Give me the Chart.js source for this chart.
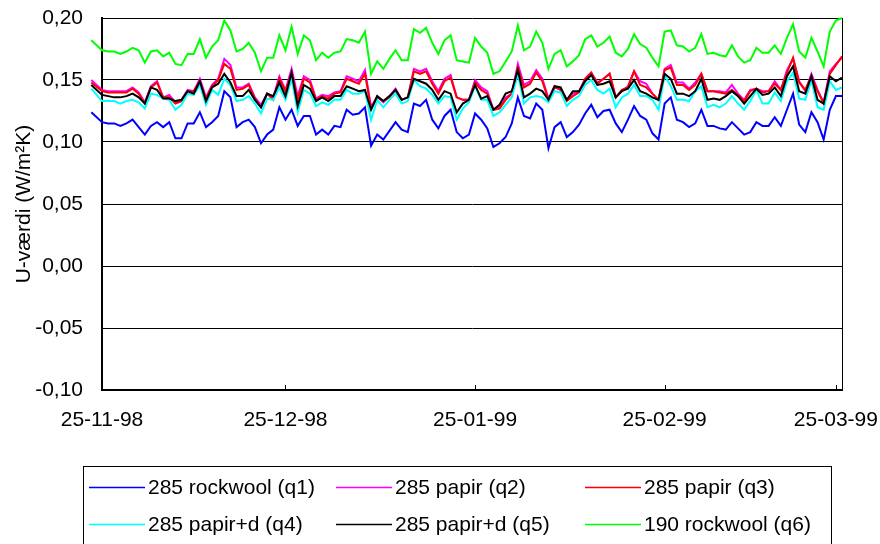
<!DOCTYPE html>
<html lang="da">
<head>
<meta charset="UTF-8">
<title>U-værdi</title>
<script src="https://cdn.jsdelivr.net/npm/chart.js"></script>
<style>
  html, body { margin: 0; padding: 0; background: #fff; }
</style>
</head>
<body>
<canvas id="uChart" width="880" height="544"></canvas>
<script>
// day 0 = 25-11-98, one reading per day (first reading a bit before the axis start)
const dayOffsets = [-1.75];
for (let d = 0; d <= 121; d++) dayOffsets.push(d);

const tickDays = [0, 30, 61, 92, 120];
const tickLabels = ['25-11-98', '25-12-98', '25-01-99', '25-02-99', '25-03-99'];

const seriesNames = ['285 rockwool (q1)', '285 papir (q2)', '285 papir (q3)',
                     '285 papir+d (q4)', '285 papir+d (q5)', '190 rockwool (q6)'];
const seriesColors = ['#0000ff', '#ff00ff', '#ff0000', '#00ffff', '#000000', '#00ff00'];

const q1 = [0.124,
  0.116, 0.115, 0.115, 0.113, 0.115, 0.118, 0.112, 0.106, 0.113, 0.116,
  0.112, 0.116, 0.103, 0.103, 0.115, 0.115, 0.124, 0.112, 0.116, 0.121,
  0.141, 0.136, 0.112, 0.116, 0.118, 0.112, 0.099, 0.106, 0.110, 0.128,
  0.118, 0.126, 0.113, 0.121, 0.121, 0.106, 0.110, 0.106, 0.113, 0.112,
  0.126, 0.122, 0.123, 0.128, 0.097, 0.106, 0.102, 0.109, 0.116, 0.110,
  0.108, 0.131, 0.129, 0.134, 0.118, 0.111, 0.121, 0.126, 0.108, 0.103,
  0.106, 0.123, 0.118, 0.111, 0.096, 0.099, 0.104, 0.115, 0.136, 0.121,
  0.119, 0.131, 0.126, 0.095, 0.112, 0.116, 0.104, 0.108, 0.114, 0.123,
  0.130, 0.120, 0.125, 0.126, 0.115, 0.108, 0.118, 0.129, 0.121, 0.118,
  0.107, 0.102, 0.131, 0.136, 0.118, 0.116, 0.112, 0.115, 0.126, 0.113,
  0.113, 0.111, 0.110, 0.116, 0.111, 0.106, 0.108, 0.116, 0.113, 0.113,
  0.120, 0.113, 0.126, 0.139, 0.114, 0.108, 0.124, 0.116, 0.102, 0.126,
  0.137, 0.137];

const q2 = [0.150,
  0.142, 0.141, 0.141, 0.141, 0.141, 0.144, 0.140, 0.132, 0.145, 0.149,
  0.136, 0.138, 0.132, 0.134, 0.142, 0.141, 0.151, 0.136, 0.146, 0.151,
  0.167, 0.162, 0.144, 0.144, 0.147, 0.136, 0.130, 0.139, 0.136, 0.153,
  0.142, 0.159, 0.137, 0.153, 0.150, 0.135, 0.138, 0.137, 0.140, 0.141,
  0.153, 0.151, 0.149, 0.158, 0.128, 0.137, 0.132, 0.137, 0.143, 0.134,
  0.136, 0.159, 0.157, 0.159, 0.149, 0.141, 0.151, 0.154, 0.136, 0.134,
  0.134, 0.150, 0.144, 0.141, 0.126, 0.128, 0.136, 0.139, 0.163, 0.146,
  0.149, 0.158, 0.151, 0.135, 0.145, 0.142, 0.134, 0.139, 0.141, 0.151,
  0.156, 0.148, 0.151, 0.155, 0.136, 0.141, 0.145, 0.157, 0.149, 0.147,
  0.139, 0.134, 0.159, 0.162, 0.148, 0.148, 0.143, 0.148, 0.155, 0.141,
  0.141, 0.141, 0.140, 0.146, 0.139, 0.134, 0.142, 0.143, 0.141, 0.141,
  0.149, 0.142, 0.158, 0.167, 0.149, 0.141, 0.155, 0.142, 0.132, 0.157,
  0.163, 0.168];

const q3 = [0.148,
  0.141, 0.140, 0.140, 0.140, 0.140, 0.143, 0.139, 0.131, 0.144, 0.148,
  0.136, 0.136, 0.131, 0.133, 0.141, 0.141, 0.149, 0.135, 0.145, 0.150,
  0.163, 0.159, 0.142, 0.143, 0.146, 0.135, 0.128, 0.139, 0.134, 0.151,
  0.141, 0.156, 0.134, 0.151, 0.148, 0.134, 0.137, 0.135, 0.139, 0.140,
  0.151, 0.149, 0.147, 0.155, 0.127, 0.136, 0.133, 0.136, 0.142, 0.134,
  0.136, 0.157, 0.155, 0.157, 0.147, 0.139, 0.149, 0.152, 0.136, 0.134,
  0.134, 0.148, 0.142, 0.139, 0.126, 0.127, 0.134, 0.139, 0.160, 0.144,
  0.147, 0.156, 0.149, 0.134, 0.144, 0.142, 0.133, 0.137, 0.140, 0.151,
  0.156, 0.147, 0.151, 0.155, 0.136, 0.142, 0.144, 0.157, 0.146, 0.144,
  0.139, 0.134, 0.158, 0.160, 0.146, 0.146, 0.142, 0.146, 0.155, 0.141,
  0.141, 0.140, 0.139, 0.142, 0.138, 0.133, 0.141, 0.143, 0.140, 0.141,
  0.147, 0.142, 0.156, 0.168, 0.148, 0.142, 0.153, 0.141, 0.131, 0.155,
  0.162, 0.169];

const q4 = [0.143,
  0.133, 0.133, 0.133, 0.131, 0.133, 0.134, 0.132, 0.127, 0.139, 0.138,
  0.135, 0.134, 0.126, 0.130, 0.139, 0.138, 0.146, 0.130, 0.142, 0.138,
  0.151, 0.146, 0.133, 0.134, 0.137, 0.131, 0.123, 0.135, 0.134, 0.144,
  0.134, 0.151, 0.124, 0.142, 0.139, 0.129, 0.132, 0.130, 0.134, 0.134,
  0.142, 0.139, 0.139, 0.141, 0.118, 0.134, 0.128, 0.134, 0.139, 0.131,
  0.133, 0.150, 0.145, 0.143, 0.138, 0.131, 0.137, 0.136, 0.118, 0.127,
  0.132, 0.145, 0.134, 0.134, 0.121, 0.124, 0.130, 0.136, 0.155, 0.131,
  0.136, 0.137, 0.136, 0.132, 0.141, 0.140, 0.129, 0.134, 0.137, 0.146,
  0.150, 0.142, 0.139, 0.143, 0.128, 0.136, 0.139, 0.146, 0.137, 0.137,
  0.134, 0.126, 0.154, 0.145, 0.134, 0.134, 0.133, 0.141, 0.145, 0.128,
  0.130, 0.128, 0.131, 0.137, 0.131, 0.126, 0.133, 0.142, 0.131, 0.131,
  0.140, 0.133, 0.149, 0.156, 0.135, 0.134, 0.150, 0.128, 0.126, 0.149,
  0.142, 0.144];

const q5 = [0.146,
  0.138, 0.137, 0.136, 0.136, 0.137, 0.139, 0.136, 0.131, 0.144, 0.142,
  0.135, 0.135, 0.133, 0.134, 0.141, 0.139, 0.149, 0.133, 0.144, 0.147,
  0.155, 0.148, 0.137, 0.137, 0.142, 0.134, 0.128, 0.139, 0.137, 0.148,
  0.137, 0.156, 0.129, 0.146, 0.143, 0.133, 0.136, 0.133, 0.137, 0.137,
  0.145, 0.143, 0.141, 0.142, 0.126, 0.137, 0.133, 0.137, 0.142, 0.134,
  0.136, 0.151, 0.149, 0.147, 0.142, 0.134, 0.141, 0.139, 0.124, 0.131,
  0.134, 0.146, 0.135, 0.137, 0.126, 0.130, 0.139, 0.141, 0.158, 0.136,
  0.139, 0.143, 0.141, 0.134, 0.145, 0.144, 0.134, 0.141, 0.141, 0.149,
  0.154, 0.146, 0.147, 0.149, 0.136, 0.141, 0.143, 0.150, 0.141, 0.139,
  0.136, 0.134, 0.155, 0.151, 0.139, 0.139, 0.137, 0.141, 0.151, 0.134,
  0.135, 0.134, 0.137, 0.141, 0.137, 0.131, 0.137, 0.143, 0.138, 0.139,
  0.144, 0.137, 0.153, 0.161, 0.141, 0.139, 0.153, 0.134, 0.131, 0.153,
  0.149, 0.152];

const q6 = [0.182,
  0.174, 0.173, 0.173, 0.171, 0.173, 0.176, 0.174, 0.164, 0.173, 0.174,
  0.169, 0.172, 0.163, 0.162, 0.171, 0.171, 0.183, 0.168, 0.177, 0.182,
  0.198, 0.190, 0.173, 0.175, 0.180, 0.172, 0.157, 0.168, 0.168, 0.186,
  0.174, 0.193, 0.171, 0.186, 0.182, 0.166, 0.172, 0.168, 0.172, 0.173,
  0.183, 0.182, 0.180, 0.189, 0.155, 0.165, 0.159, 0.167, 0.174, 0.166,
  0.166, 0.191, 0.188, 0.192, 0.180, 0.171, 0.182, 0.186, 0.166, 0.165,
  0.164, 0.184, 0.177, 0.172, 0.155, 0.157, 0.165, 0.173, 0.194, 0.174,
  0.177, 0.189, 0.180, 0.159, 0.171, 0.174, 0.161, 0.165, 0.170, 0.183,
  0.186, 0.177, 0.180, 0.185, 0.172, 0.169, 0.175, 0.187, 0.179, 0.176,
  0.168, 0.161, 0.189, 0.190, 0.178, 0.177, 0.173, 0.176, 0.187, 0.171,
  0.172, 0.170, 0.169, 0.178, 0.169, 0.164, 0.166, 0.176, 0.172, 0.172,
  0.178, 0.171, 0.184, 0.195, 0.173, 0.168, 0.184, 0.173, 0.161, 0.189,
  0.198, 0.200];

const allSeries = [q1, q2, q3, q4, q5, q6];
const fontFam = '"Liberation Sans", Arial, sans-serif';

// Excel draws the last series on top, chart.js draws lowest "order" on top
const datasets = allSeries.map((vals, i) => ({
  label: seriesNames[i],
  data: dayOffsets.map((d, j) => ({ x: d, y: vals[j] })),
  borderColor: seriesColors[i],
  backgroundColor: seriesColors[i],
  borderWidth: 2,
  pointRadius: 0,
  tension: 0,
  clip: false,
  order: allSeries.length - i
}));

// plot frame on the right, inward date ticks and the boxed legend
const frameAndLegend = {
  id: 'frameAndLegend',
  afterDraw(chart) {
    const ctx = chart.ctx;
    const a = chart.chartArea;
    const xs = chart.scales.x;
    ctx.save();
    ctx.strokeStyle = '#000';
    ctx.lineWidth = 1;
    ctx.beginPath();
    ctx.moveTo(a.right + 0.5, a.top);
    ctx.lineTo(a.right + 0.5, a.bottom);
    ctx.stroke();

    tickDays.forEach(d => {
      const px = Math.round(xs.getPixelForValue(d)) + 0.5;
      ctx.beginPath();
      ctx.moveTo(px, a.bottom);
      ctx.lineTo(px, a.bottom - 5);
      ctx.stroke();
    });

    ctx.strokeRect(83.5, 466.5, 748, 90);
    const colX = [89, 336, 585];
    const rowY = [487, 524];
    ctx.font = '21px ' + fontFam;
    ctx.textBaseline = 'middle';
    ctx.textAlign = 'left';
    chart.data.datasets.forEach((ds, i) => {
      const x = colX[i % 3];
      const y = rowY[Math.floor(i / 3)];
      ctx.strokeStyle = ds.borderColor;
      ctx.lineWidth = 1.5;
      ctx.beginPath();
      ctx.moveTo(x, y + 0.5);
      ctx.lineTo(x + 56, y + 0.5);
      ctx.stroke();
      ctx.fillStyle = '#000';
      ctx.fillText(ds.label, x + 59, y + 1);
    });
    ctx.restore();
  }
};

const ctx = document.getElementById('uChart').getContext('2d');
const uChart = new Chart(ctx, {
  type: 'line',
  data: { datasets: datasets },
  options: {
    responsive: false,
    animation: false,
    devicePixelRatio: 1,
    layout: { padding: { left: 0, right: 38, top: 18, bottom: 114 } },
    plugins: {
      legend: { display: false },
      tooltip: { enabled: false }
    },
    scales: {
      x: {
        type: 'linear',
        min: 0,
        max: 121,
        afterBuildTicks: s => { s.ticks = tickDays.map(v => ({ value: v })); },
        afterFit: s => { s.height = 40; s.paddingLeft = 0; s.paddingRight = 0; },
        ticks: {
          autoSkip: false,
          maxRotation: 0,
          padding: 18,
          color: '#000',
          font: { family: fontFam, size: 21 },
          callback: (v, i) => tickLabels[i]
        },
        grid: { drawOnChartArea: false, drawTicks: false },
        border: { color: '#000', width: 2 }
      },
      y: {
        min: -0.1,
        max: 0.2,
        afterFit: s => { s.width = 102; s.paddingTop = 0; s.paddingBottom = 0; },
        ticks: {
          stepSize: 0.05,
          padding: 19,
          color: '#000',
          font: { family: fontFam, size: 21 },
          callback: v => (Math.abs(v) < 1e-9 ? 0 : v).toFixed(2).replace('.', ',')
        },
        grid: { color: '#000', lineWidth: 1, drawTicks: false },
        border: { color: '#000', width: 2 },
        title: {
          display: true,
          text: 'U-værdi (W/m²K)',
          color: '#000',
          font: { family: fontFam, size: 21 },
          padding: { top: 12, bottom: 0 }
        }
      }
    }
  },
  plugins: [frameAndLegend]
});
</script>
</body>
</html>
